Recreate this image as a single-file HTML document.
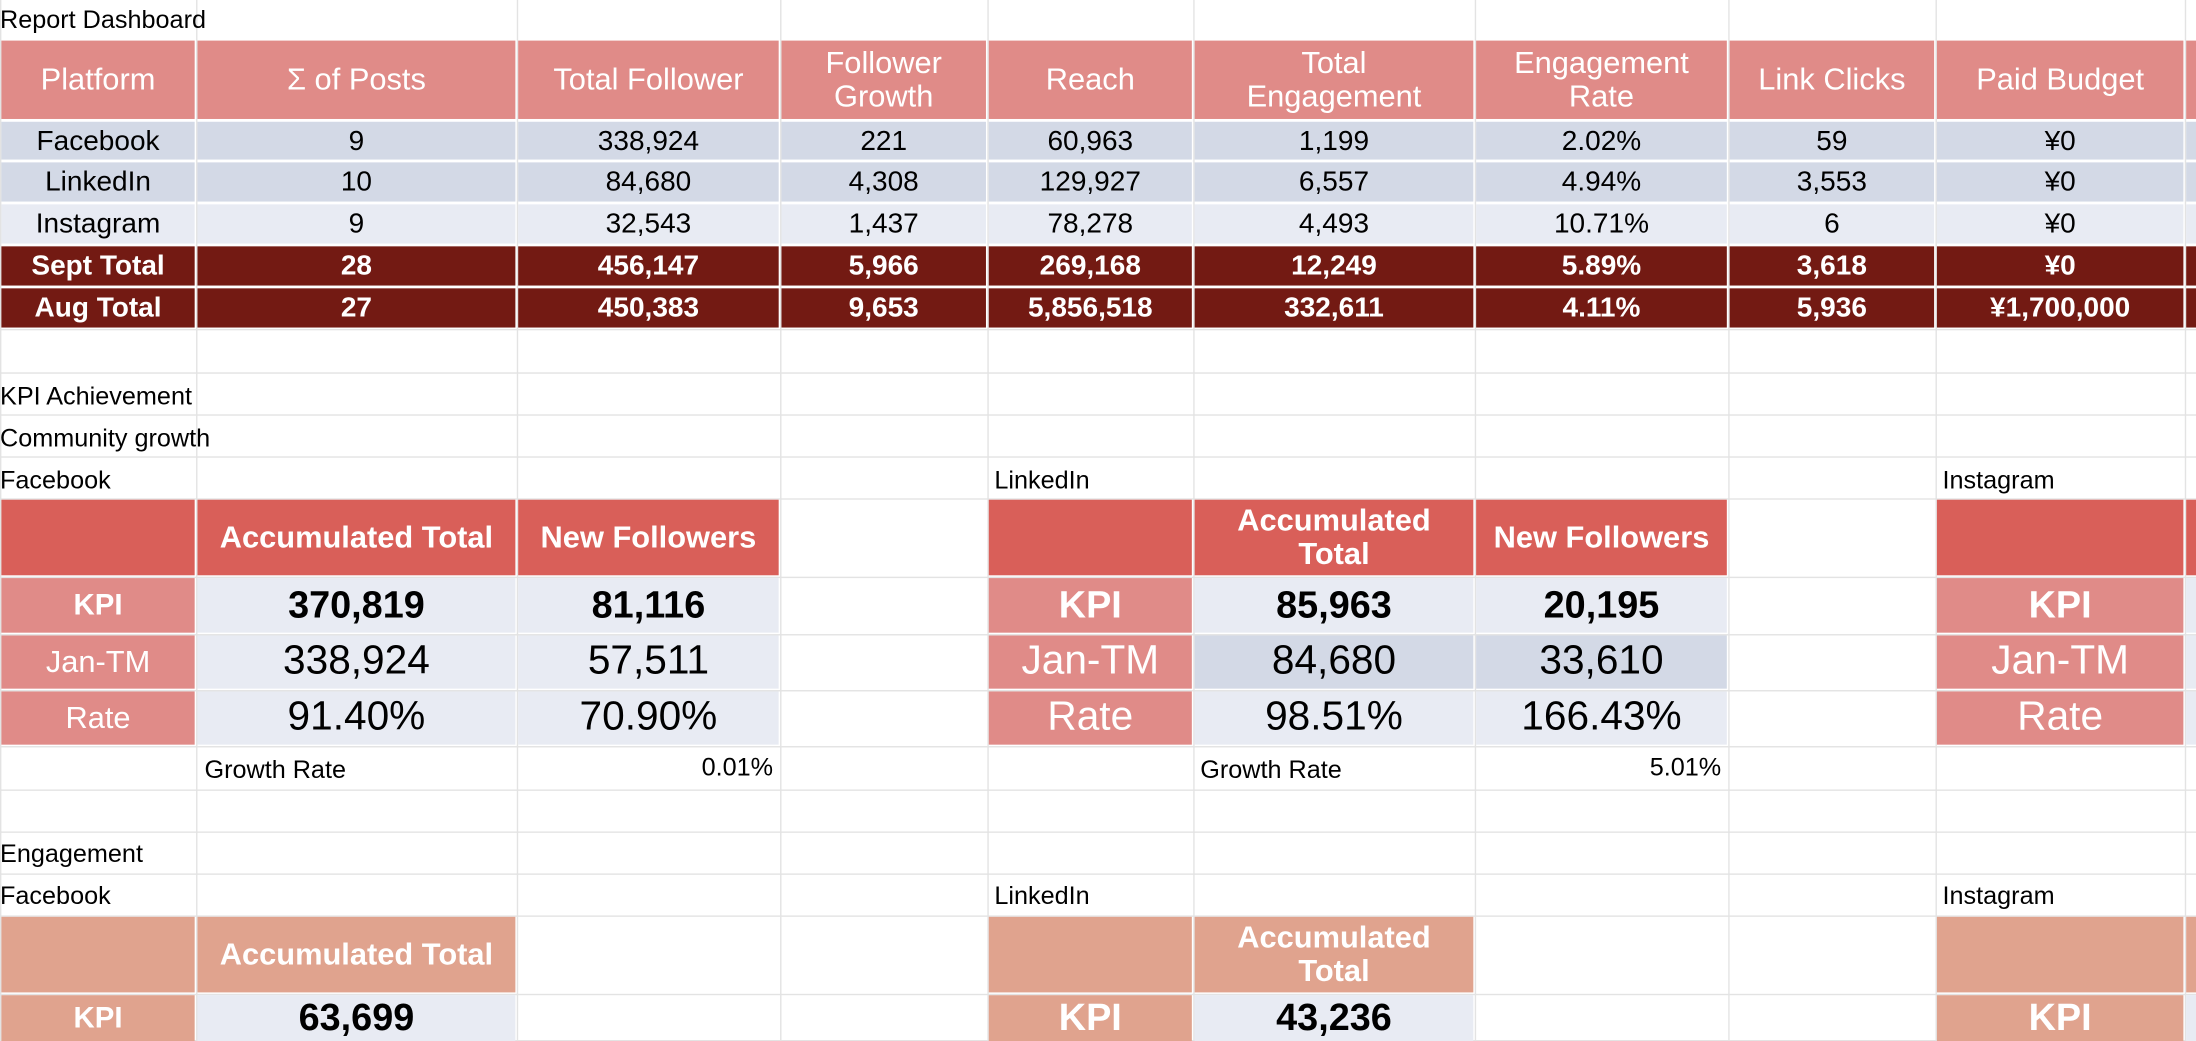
<!DOCTYPE html>
<html><head><meta charset="utf-8">
<style>
html,body{margin:0;padding:0;background:#fff;overflow:hidden;}
#sheet{position:absolute;left:0;top:0;width:1568px;height:743px;transform-origin:0 0;transform:scale(1.40051,1.39973);font-family:"Liberation Sans",sans-serif;}
.c{position:absolute;box-sizing:border-box;display:flex;align-items:center;justify-content:center;text-align:center;line-height:1.1;white-space:nowrap;overflow:hidden;}
.g{position:absolute;background:#e3e3e3;}
.t{position:absolute;font-size:18px;color:#000;line-height:1;white-space:nowrap;}
</style></head>
<body>
<div id="sheet"></div>
<script>
const sheet=document.getElementById('sheet');
const X=[0,140,369,557,705,852,1053,1234,1382,1560,1568];
const GY=[0,28,86,115,145,175,205,235,266,296,326,356,412,453,493,533,564,594,624,654,710,743];
// gridlines
X.forEach(x=>{const d=document.createElement('div');d.className='g';d.style.cssText=`left:${x}px;top:0;width:1px;height:743px`;


sheet.appendChild(d);});
GY.slice(7).forEach(y=>{const d=document.createElement('div');d.className='g';d.style.cssText=`left:0;top:${y}px;width:1568px;height:1px`;


sheet.appendChild(d);});
function cell(x0,x1,y0,y1,html,bg,color,fs,fw,name,align){
  const d=document.createElement('div');d.className='c';
  d.style.left=(x0+1)+'px';d.style.top=(y0+1)+'px';d.style.width=(x1-x0-2)+'px';d.style.height=(y1-y0-2)+'px';
  if(bg)d.style.background=bg;d.style.color=color||'#000';d.style.fontSize=(fs||20)+'px';d.style.fontWeight=fw||'normal';
  if(align==='right'){d.style.justifyContent='flex-end';d.style.paddingRight='4px';}
  if(align==='left'){d.style.justifyContent='flex-start';d.style.paddingLeft='4px';}
  d.innerHTML=html;
  
  
  sheet.appendChild(d);return d;
}
function text(x,y,s,name){const d=document.createElement('div');d.className='t';d.style.left=x+'px';d.style.top=y+'px';d.textContent=s;


sheet.appendChild(d);}
const PINK='#e08b88',L1='#d3d9e6',L2='#e8ebf3',DARK='#731a13',RED='#d95f59',PEACH='#e0a38e';
text(0,5,'Report Dashboard','report-title');
const headers=['Platform','Σ of Posts','Total Follower','Follower<br>Growth','Reach','Total<br>Engagement','Engagement<br>Rate','Link Clicks','Paid Budget',''];
const rows=[
['Facebook','9','338,924','221','60,963','1,199','2.02%','59','¥0',''],
['LinkedIn','10','84,680','4,308','129,927','6,557','4.94%','3,553','¥0',''],
['Instagram','9','32,543','1,437','78,278','4,493','10.71%','6','¥0',''],
['Sept Total','28','456,147','5,966','269,168','12,249','5.89%','3,618','¥0',''],
['Aug Total','27','450,383','9,653','5,856,518','332,611','4.11%','5,936','¥1,700,000','']];
const rowBg=[L1,L1,L2,DARK,DARK];
headers.forEach((h,i)=>cell(X[i],X[i+1]+(i==9?2:0),28,86,h,PINK,'#fff',22,'normal','header-'+i));
rows.forEach((r,ri)=>r.forEach((v,i)=>{
  const tot=ri>=3;
  cell(X[i],X[i+1]+(i==9?2:0),GY[ri+2],GY[ri+3],v,rowBg[ri],tot?'#fff':'#000',20,tot?'bold':'normal','summary-'+ri+'-'+i);
}));
text(0,274,'KPI Achievement','kpi-achievement-label');
text(0,304,'Community growth','community-growth-label');
text(0,334,'Facebook','facebook-label');
text(710,334,'LinkedIn','linkedin-label');
text(1387,334,'Instagram','instagram-label');
function block(c,name,data,big,janBg){
  const x=[X[c],X[c+1],X[c+2],X[c+3]];
  cell(x[0],x[1],356,412,'',RED,'#fff',22,'bold',name+'-header-blank');
  if(data){
    cell(x[1],x[2],356,412,big?'Accumulated<br>Total':'Accumulated Total',RED,'#fff',22,'bold',name+'-accumulated-header');
    cell(x[2],x[3],356,412,'New Followers',RED,'#fff',22,'bold',name+'-new-followers-header');
  }
  const labels=['KPI','Jan-TM','Rate'];
  labels.forEach((l,i)=>{
    const y0=[412,453,493][i],y1=[453,493,533][i];
    cell(x[0],x[1]+(c==8?0:0),y0,y1,l,PINK,'#fff',big?(i==0?27:29):(i==0?21:22),i==0?'bold':'normal',name+'-label-'+l.toLowerCase());
    if(data){
      cell(x[1],x[2],y0,y1,data[i][0],i==1?janBg:L2,'#000',i==0?27:29,i==0?'bold':'normal',name+'-accum-'+i);
      cell(x[2],x[3],y0,y1,data[i][1],i==1?janBg:L2,'#000',i==0?27:29,i==0?'bold':'normal',name+'-new-'+i);
    }
  });
}
block(0,'facebook',[['370,819','81,116'],['338,924','57,511'],['91.40%','70.90%']],false,L2);
block(4,'linkedin',[['85,963','20,195'],['84,680','33,610'],['98.51%','166.43%']],true,L1);
block(8,'instagram',null,true,L2);
cell(1560,1570,356,412,'',RED,'#fff',20,'normal','instagram-header-edge');
[412,453,493].forEach((y,i)=>cell(1560,1570,y,[453,493,533][i],'',L2,'#000',20,'normal','instagram-edge-'+i));
text(146,541,'Growth Rate','facebook-growth-rate-label');
cell(369,557,533,564,'0.01%',null,'#000',18,'normal','facebook-growth-rate','right');
text(857,541,'Growth Rate','linkedin-growth-rate-label');
cell(1053,1234,533,564,'5.01%',null,'#000',18,'normal','linkedin-growth-rate','right');
text(0,601,'Engagement','engagement-label');
text(0,631,'Facebook','engagement-facebook-label');
text(710,631,'LinkedIn','engagement-linkedin-label');
text(1387,631,'Instagram','engagement-instagram-label');
[[0,'facebook','63,699','Accumulated Total'],[4,'linkedin','43,236','Accumulated<br>Total'],[8,'instagram',null,null]].forEach(([c,n,v,h])=>{
  cell(X[c],X[c+1],654,710,'',PEACH,'#fff',22,'bold',n+'-engagement-header-blank');
  cell(X[c],X[c+1],710,745,'KPI',PEACH,'#fff',c==0?21:27,'bold',n+'-engagement-kpi-label');
  if(v){
    cell(X[c+1],X[c+2],654,710,h,PEACH,'#fff',22,'bold',n+'-engagement-accum-header');
    cell(X[c+1],X[c+2],710,745,v,L2,'#000',27,'bold',n+'-engagement-kpi-value');
  }
});
cell(1560,1570,654,710,'',PEACH,'#fff',20,'normal','engagement-edge');
cell(1560,1570,710,745,'',L2,'#000',20,'normal','engagement-edge-kpi');
</script>
</body></html>
